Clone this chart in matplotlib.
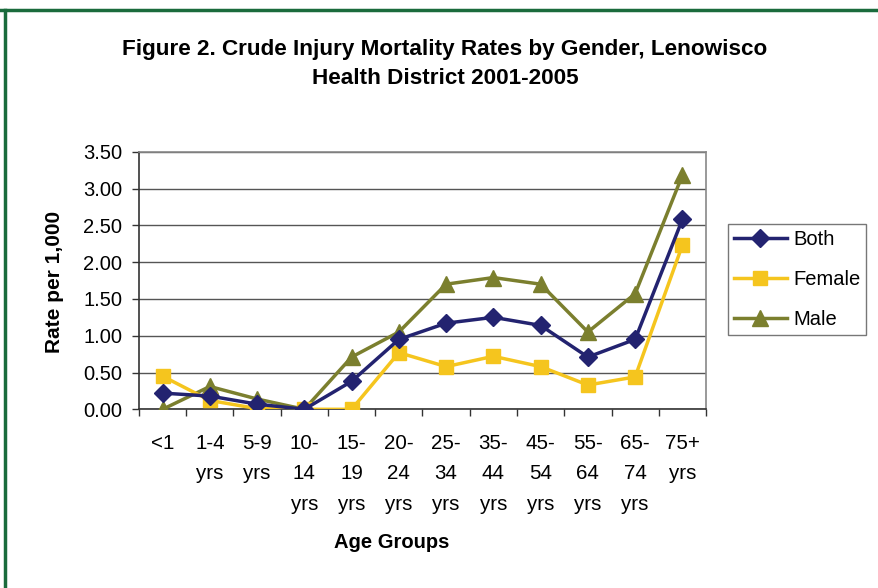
import matplotlib
matplotlib.use("Agg")
import matplotlib.pyplot as plt
from matplotlib.lines import Line2D

plt.rcParams['font.family'] = ['Liberation Sans', 'DejaVu Sans']

categories = ["<1", "1-4\nyrs", "5-9\nyrs", "10-\n14\nyrs", "15-\n19\nyrs", "20-\n24\nyrs",
              "25-\n34\nyrs", "35-\n44\nyrs", "45-\n54\nyrs", "55-\n64\nyrs", "65-\n74\nyrs", "75+\nyrs"]
both = [0.22, 0.18, 0.07, 0.00, 0.38, 0.95, 1.17, 1.25, 1.14, 0.71, 0.95, 2.58]
female = [0.45, 0.12, 0.01, 0.00, 0.00, 0.77, 0.58, 0.72, 0.58, 0.33, 0.44, 2.23]
male = [0.00, 0.31, 0.14, 0.00, 0.71, 1.05, 1.70, 1.79, 1.70, 1.05, 1.57, 3.18]
yticks = [0.0, 0.5, 1.0, 1.5, 2.0, 2.5, 3.0, 3.5]

fig = plt.figure(figsize=(8.79, 5.88), dpi=100)
ax = fig.add_axes([0.1581, 0.3039, 0.8032 - 0.1581, 0.742 - 0.3039])

x = list(range(len(categories)))
lw = 2.5
ax.plot(x, both, color='#232370', lw=lw, marker='D', markersize=9, label='Both', zorder=5)
ax.plot(x, female, color='#f5c51e', lw=lw, marker='s', markersize=10.5, label='Female', zorder=4)
ax.plot(x, male, color='#7b7f2e', lw=lw, marker='^', markersize=12, label='Male', zorder=3)

ax.set_xlim(-0.5, len(categories) - 0.5)
ax.set_ylim(0, 3.5)
ax.set_yticks(yticks)
ax.set_yticklabels([f"{v:.2f}" for v in yticks], fontsize=14.5)
ax.yaxis.grid(True, color='#555555', lw=1.0)
ax.set_axisbelow(True)

ax.set_xticks([i + 0.5 for i in range(-1, len(categories))])
ax.set_xticklabels([])
ax.set_xticks(x, minor=True)
ax.set_xticklabels(categories, minor=True, fontsize=14.8, va='top', linespacing=1.74)
ax.tick_params(axis='x', which='minor', length=0, pad=18)
ax.tick_params(axis='x', which='major', length=5, direction='out', color='#333333', width=1)
ax.tick_params(axis='y', length=5, direction='out', color='#333333', width=1, pad=7)

for s in ['top', 'right']:
    ax.spines[s].set_color('#888888')
    ax.spines[s].set_linewidth(1.2)
for s in ['left', 'bottom']:
    ax.spines[s].set_color('#333333')
    ax.spines[s].set_linewidth(1.2)

fig.text(445 / 879, 1 - 49 / 588, "Figure 2. Crude Injury Mortality Rates by Gender, Lenowisco",
         ha='center', va='center', fontsize=16.2, fontweight='bold')
fig.text(445 / 879, 1 - 78 / 588, "Health District 2001-2005",
         ha='center', va='center', fontsize=16.2, fontweight='bold')
fig.text(55 / 879, 1 - 282 / 588, "Rate per 1,000", rotation=90, ha='center', va='center',
         fontsize=15, fontweight='bold')
fig.text(391.5 / 879, 1 - 543 / 588, "Age Groups", ha='center', va='center', fontsize=14.5,
         fontweight='bold')

leg = fig.legend(loc='upper left', bbox_to_anchor=(727.7 / 879, 1 - 224 / 588), fontsize=14.5,
                 frameon=True, fancybox=False, edgecolor='#555555', handlelength=2.65,
                 borderpad=0.3, labelspacing=1.05, handletextpad=0.3, borderaxespad=0)
leg.get_frame().set_linewidth(1.0)

# green border (top and left)
fig.add_artist(Line2D([0, 1], [1 - 9.5 / 588, 1 - 9.5 / 588], color='#1a6b3c', lw=2.5,
                      transform=fig.transFigure))
fig.add_artist(Line2D([5.5 / 879, 5.5 / 879], [0, 1 - 9.5 / 588], color='#1a6b3c', lw=2.5,
                      transform=fig.transFigure))

fig.savefig("out.png", dpi=100)
